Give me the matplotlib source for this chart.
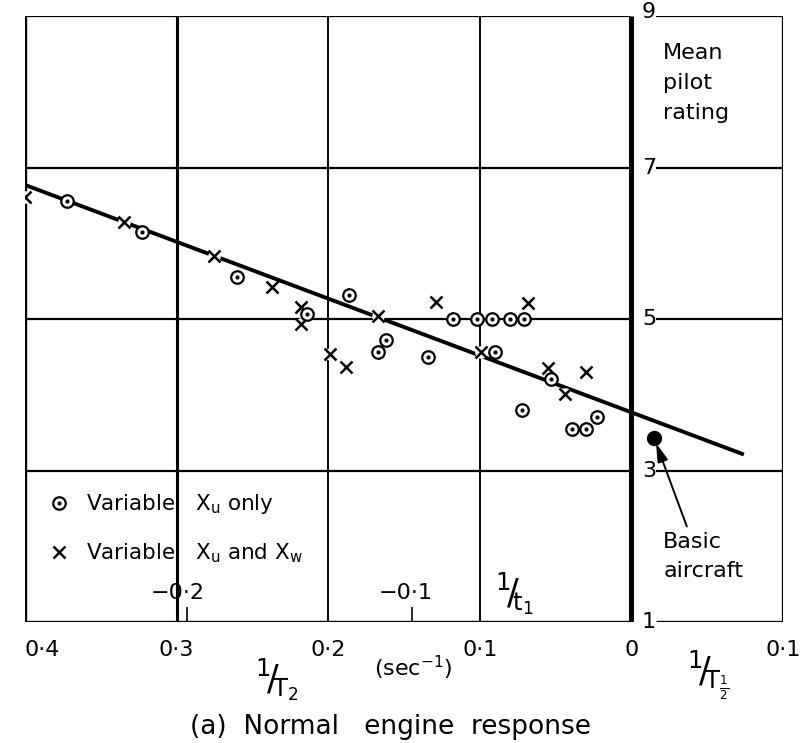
import matplotlib.pyplot as plt
from matplotlib.legend_handler import HandlerTuple

plt.rcParams['font.family'] = ['DejaVu Sans']
plt.rcParams['mathtext.fontset'] = 'dejavusans'

# Points with only X_u varied (circles)
xu_x = [-0.372, -0.323, -0.260, -0.214, -0.186, -0.162, -0.167, -0.134, -0.118, -0.102,
        -0.092, -0.080, -0.071, -0.090, -0.053, -0.072, -0.039, -0.030, -0.023]
xu_y = [6.56, 6.15, 5.55, 5.07, 5.32, 4.72, 4.56, 4.50, 5.00, 5.00,
        5.00, 5.00, 5.00, 4.56, 4.21, 3.80, 3.55, 3.55, 3.71]

# Points with X_u and X_w varied (crosses)
xw_x = [-0.400, -0.335, -0.275, -0.237, -0.218, -0.218, -0.167, -0.199, -0.188, -0.129,
        -0.068, -0.099, -0.055, -0.044, -0.030]
xw_y = [6.61, 6.28, 5.83, 5.42, 5.16, 4.93, 5.04, 4.54, 4.37, 5.22,
        5.21, 4.56, 4.35, 4.01, 4.30]

basic_x, basic_y = 0.015, 3.43

# faired line
fit_x = [-0.40, 0.073]
fit_y = [6.77, 3.22]

x_ticks = [-0.4, -0.3, -0.2, -0.1, 0.0, 0.1]
x_labels = ['0·4', '0·3', '0·2', '0·1', '0', '0·1']
y_ticks = [1, 3, 5, 7, 9]

# 1/t1 scale marks along the bottom
t1_tick_x = [-0.300, -0.293, -0.145]
t1_label_x = [-0.299, -0.149]
t1_labels = ['−0·2', '−0·1']

fig = plt.figure(figsize=(8, 7.43), dpi=100)
ax = fig.add_axes([0.03125, 0.16285, 0.9475, 0.81561])
ax.set_xlim(-0.4, 0.1)
ax.set_ylim(1, 9)
for s in ax.spines.values():
    s.set_visible(False)
ax.set_yticks([])
ax.set_xticks(x_ticks)
ax.set_xticklabels(x_labels, fontsize=16)
ax.tick_params(axis='x', length=0, pad=13)
ax.get_xticklabels()[0].set_horizontalalignment('left')

# grid / frame
ax.vlines(-0.4, 1, 9, color='k', lw=2.4, zorder=1)
ax.vlines(-0.3, 1, 9, color='k', lw=2.2, zorder=1)
ax.vlines([-0.2, -0.1], 1, 9, color='k', lw=1.4, zorder=1)
ax.vlines(0.0, 1, 9, color='k', lw=3.6, zorder=1)
ax.vlines(0.1, 1, 9, color='k', lw=1.6, zorder=1)
for y in y_ticks:
    lw = 2.4 if y == 1 else 1.6
    ax.hlines(y, -0.4, 0.0, color='k', lw=lw, zorder=1)
    ax.hlines(y, 0.016, 0.1, color='k', lw=lw, zorder=1)
    ax.text(0.007, y + (0.05 if y == 9 else 0), str(y), fontsize=16,
            ha='left', va='center', zorder=4)

ax.vlines(t1_tick_x, 1, 1.2, color='k', lw=1.2)
for xp, lab in zip(t1_label_x, t1_labels):
    ax.text(xp, 1.38, lab, fontsize=16, ha='center', va='center')
ax.text(-0.077, 1.37, r'${}^{1}\!/\!{}_{\mathrm{t}_{1}}$', fontsize=25, ha='center', va='center')

# faired line and data
ax.plot(fit_x, fit_y, color='k', lw=2.8, zorder=2)
ax.plot(xw_x, xw_y, ls='none', marker='o', ms=9, mfc='white', mec='none', zorder=2.5)
h_x, = ax.plot(xw_x, xw_y, ls='none', marker='x', ms=8, mew=1.8, color='k', zorder=3)
h_o, = ax.plot(xu_x, xu_y, ls='none', marker='o', ms=9, mfc='white', mec='k', mew=1.6, zorder=3)
h_d, = ax.plot(xu_x, xu_y, ls='none', marker='o', ms=2, color='k', zorder=3.1)
ax.plot(basic_x, basic_y, marker='o', ms=10, color='k', zorder=3)

ax.annotate('Basic\naircraft', xy=(basic_x, basic_y), xytext=(0.021, 2.19),
            fontsize=16, ha='left', va='top', linespacing=1.6,
            arrowprops=dict(arrowstyle='-|>,head_length=0.7,head_width=0.2',
                            color='k', lw=1.4, shrinkA=2, shrinkB=4, relpos=(0.32, 1.0)))

ax.text(0.021, 8.115, 'Mean\npilot\nrating', fontsize=16, ha='left', va='center', linespacing=1.65)

ax.legend([(h_o, h_d), h_x],
          [r'Variable   $\mathrm{X_u}$ only', r'Variable   $\mathrm{X_u}$ and $\mathrm{X_w}$'],
          handler_map={tuple: HandlerTuple(ndivide=1)},
          loc='upper left', bbox_to_anchor=(0.03, 0.214), frameon=False, fontsize=15.5,
          handlelength=1.0, handletextpad=0.8, labelspacing=1.15, borderpad=0, borderaxespad=0)

# axis titles
fig.text(277 / 800, 1 - 680 / 743, r'${}^{1}\!/\!{}_{\mathrm{T}_{2}}$', fontsize=25, ha='center', va='center')
fig.text(413 / 800, 1 - 668 / 743, r'(sec$^{-1}$)', fontsize=16, ha='center', va='center')
fig.text(708 / 800, 1 - 675 / 743, r'${}^{1}\!/\!{}_{\mathrm{T}_{\frac{1}{2}}}$', fontsize=25, ha='center', va='center')
fig.text(390 / 800, 1 - 727 / 743, '(a)  Normal   engine  response', fontsize=19, ha='center', va='center')

fig.savefig('out.png', dpi=100)
